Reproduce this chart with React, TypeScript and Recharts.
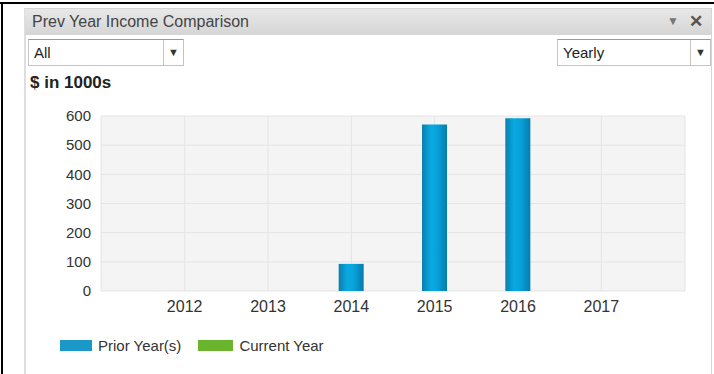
import React from "react";
import {
  BarChart,
  Bar,
  XAxis,
  YAxis,
  CartesianGrid,
  Legend,
} from "recharts";

const years = ["2012", "2013", "2014", "2015", "2016", "2017"];
const priorYear = [0, 0, 93, 571, 592, 0];
const currentYear = [0, 0, 0, 0, 0, 0];
const yTicks = [0, 100, 200, 300, 400, 500, 600];

const seriesNames = ["Prior Year(s)", "Current Year"];
const swatchColors = ["#1a98c7", "#6ab42e"];

const data = years.map((year, i) => ({
  year,
  prior: priorYear[i],
  current: currentYear[i],
}));

const font = '"Liberation Sans", Arial, sans-serif';

function LegendContent() {
  return (
    <div style={{ display: "flex", alignItems: "center", fontFamily: font }}>
      {seriesNames.map((name, i) => (
        <div
          key={name}
          style={{ display: "flex", alignItems: "center", marginRight: 17 }}
        >
          <span
            style={{
              display: "inline-block",
              width: i === 0 ? 32 : 35,
              height: 11,
              background: swatchColors[i],
              marginRight: 6,
            }}
          />
          <span style={{ fontSize: 15, color: "#333" }}>{name}</span>
        </div>
      ))}
    </div>
  );
}

function Dropdown({ left, width, label }: { left: number; width: number; label: string }) {
  return (
    <div
      style={{
        position: "absolute",
        left,
        top: 39,
        width,
        height: 27,
        boxSizing: "border-box",
        border: "1px solid #c4c4c4",
        borderTopColor: "#9a9a9a",
        background: "#fff",
        fontFamily: font,
      }}
    >
      <span
        style={{
          position: "absolute",
          left: 5,
          top: 4,
          fontSize: 15,
          color: "#222",
        }}
      >
        {label}
      </span>
      <div
        style={{
          position: "absolute",
          right: 0,
          top: 0,
          width: 19,
          height: 25,
          borderLeft: "1px solid #c4c4c4",
          textAlign: "center",
          fontSize: 11,
          lineHeight: "24px",
          color: "#333",
        }}
      >
        ▼
      </div>
    </div>
  );
}

export default function App() {
  return (
    <div
      style={{
        position: "absolute",
        left: 0,
        top: 0,
        width: 714,
        height: 374,
        overflow: "hidden",
        background: "#fff",
        fontFamily: font,
      }}
    >
      {/* outer cell border */}
      <div style={{ position: "absolute", left: 0, top: 2, width: 714, height: 2, background: "#000" }} />
      <div style={{ position: "absolute", left: 1, top: 2, width: 2, height: 372, background: "#000" }} />

      {/* panel */}
      <div
        style={{
          position: "absolute",
          left: 24,
          top: 8,
          width: 688,
          height: 380,
          boxSizing: "border-box",
          border: "1px solid #d6d6d6",
          borderLeft: "2px solid #dedede",
        }}
      />
      <div
        style={{
          position: "absolute",
          left: 25,
          top: 9,
          width: 686,
          height: 26,
          background: "linear-gradient(#e8e8e8, #d5d5d5)",
        }}
      >
        <span
          style={{
            position: "absolute",
            left: 7,
            top: 4,
            fontSize: 16,
            color: "#444",
          }}
        >
          Prev Year Income Comparison
        </span>
        <span style={{ position: "absolute", left: 642, top: 5, fontSize: 12, color: "#777" }}>▼</span>
        <span style={{ position: "absolute", left: 664, top: 2, fontSize: 17, fontWeight: "bold", color: "#555" }}>✕</span>
      </div>

      <Dropdown left={28} width={156} label="All" />
      <Dropdown left={557} width={154} label="Yearly" />

      <span
        style={{
          position: "absolute",
          left: 30,
          top: 73,
          fontSize: 17,
          fontWeight: "bold",
          color: "#222",
        }}
      >
        $ in 1000s
      </span>

      <div style={{ position: "absolute", left: 0, top: 0 }}>
        <BarChart
          width={714}
          height={374}
          data={data}
          margin={{ top: 116, right: 29, left: 41, bottom: 23 }}
        >
          <defs>
            <linearGradient id="priorGrad" x1="0" y1="0" x2="1" y2="0">
              <stop offset="0%" stopColor="#0a7fb0" />
              <stop offset="35%" stopColor="#09a9e2" />
              <stop offset="60%" stopColor="#08a2da" />
              <stop offset="100%" stopColor="#067cae" />
            </linearGradient>
          </defs>
          <CartesianGrid stroke="#e4e4e4" fill="#f4f4f4" />
          <XAxis
            dataKey="year"
            padding={{ left: 42, right: 42 }}
            axisLine={false}
            tickLine={false}
            tickMargin={4}
            tick={{ fill: "#333", fontSize: 16, fontFamily: font }}
          />
          <YAxis
            width={60}
            domain={[0, 600]}
            ticks={yTicks}
            axisLine={false}
            tickLine={false}
            tickMargin={4}
            tick={{ fill: "#333", fontSize: 15, fontFamily: font }}
          />
          <Legend
            verticalAlign="bottom"
            height={30}
            content={() => <LegendContent />}
            wrapperStyle={{ top: 337, left: 60, width: 400 }}
          />
          <Bar
            dataKey="prior"
            name={seriesNames[0]}
            stackId="a"
            barSize={25}
            fill="url(#priorGrad)"
            isAnimationActive={false}
          />
          <Bar
            dataKey="current"
            name={seriesNames[1]}
            stackId="a"
            barSize={25}
            fill={swatchColors[1]}
            isAnimationActive={false}
          />
        </BarChart>
      </div>
    </div>
  );
}
